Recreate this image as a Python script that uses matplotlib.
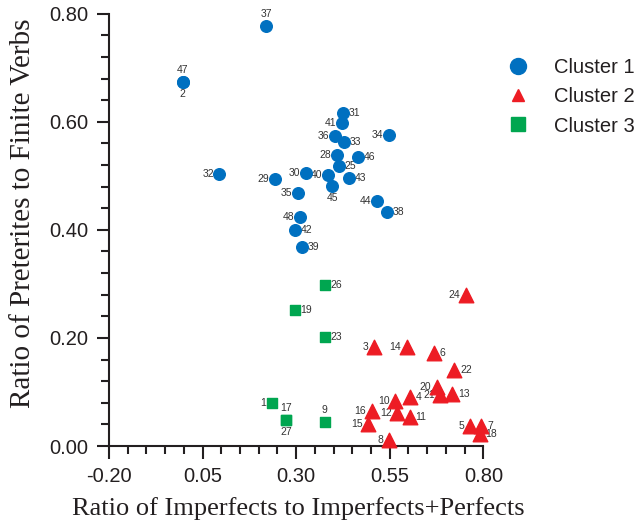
import matplotlib as mpl
mpl.use('Agg')
import matplotlib.pyplot as plt
from matplotlib.lines import Line2D
from matplotlib.ticker import MultipleLocator, FixedLocator, FormatStrFormatter

# imperfect ratio (x) vs preterite ratio (y), one array set per cluster
c1_ids = ['37', '47', '2', '31', '41', '36', '34', '33', '28', '46', '25', '32',
          '30', '40', '43', '29', '45', '35', '44', '38', '48', '42', '39']
c1_x = [0.220, -0.003, -0.003, 0.425, 0.423, 0.403, 0.547, 0.427, 0.409, 0.466,
        0.414, 0.095, 0.325, 0.384, 0.442, 0.244, 0.397, 0.305, 0.515, 0.544,
        0.310, 0.298, 0.316]
c1_y = [0.778, 0.673, 0.673, 0.617, 0.598, 0.574, 0.576, 0.562, 0.539, 0.535,
        0.519, 0.504, 0.505, 0.501, 0.496, 0.494, 0.481, 0.468, 0.454, 0.433,
        0.424, 0.400, 0.369]

c2_ids = ['24', '3', '14', '6', '22', '20', '21', '13', '4', '10', '12', '16',
          '11', '15', '8', '5', '7', '18']
c2_x = [0.754, 0.508, 0.595, 0.668, 0.723, 0.676, 0.685, 0.717, 0.604, 0.565,
        0.570, 0.502, 0.604, 0.492, 0.548, 0.764, 0.795, 0.790]
c2_y = [0.279, 0.184, 0.184, 0.173, 0.141, 0.110, 0.094, 0.096, 0.090, 0.084,
        0.062, 0.064, 0.053, 0.041, 0.012, 0.037, 0.038, 0.022]

c3_ids = ['26', '19', '23', '1', '17', '27', '9']
c3_x = [0.378, 0.296, 0.376, 0.235, 0.273, 0.273, 0.376]
c3_y = [0.298, 0.251, 0.201, 0.079, 0.048, 0.048, 0.044]

x_ticks = [-0.20, 0.05, 0.30, 0.55, 0.80]
y_ticks = [0.00, 0.20, 0.40, 0.60, 0.80]

# where each point label sits relative to its marker
side = {
    '37': 't', '47': 't', '2': 'b', '31': 'r', '41': 'l', '36': 'l', '34': 'l',
    '33': 'r', '28': 'l', '46': 'r', '25': 'r', '32': 'l', '30': 'l', '40': 'l',
    '43': 'r', '29': 'l', '45': 'b', '35': 'l', '44': 'l', '38': 'r', '48': 'l',
    '42': 'r', '39': 'r',
    '24': 'l', '3': 'l', '14': 'l', '6': 'r', '22': 'r', '20': 'l', '21': 'l',
    '13': 'r', '4': 'r', '10': 'l', '12': 'l', '16': 'l', '11': 'r', '15': 'l',
    '8': 'l', '5': 'l', '7': 'r', '18': 'r',
    '26': 'r', '19': 'r', '23': 'r', '1': 'l', '17': 't', '27': 'b', '9': 't',
}
place = {
    'r': ((4, 0), 'left', 'center'),
    'l': ((-4, 0), 'right', 'center'),
    't': ((0, 5), 'center', 'bottom'),
    'b': ((0, -5), 'center', 'top'),
}

BLUE = '#0070C0'
RED = '#ED1C24'
GREEN = '#00A650'
INK = '#231F20'
SANS = ['Liberation Sans', 'DejaVu Sans']
NARROW = ['Liberation Sans Narrow', 'Liberation Sans', 'DejaVu Sans']

fig = plt.figure(figsize=(6.41, 5.26), dpi=100)
ax = fig.add_axes([0.170, 0.152, 0.584, 0.822])

ax.scatter(c1_x, c1_y, s=70, marker='o', color=BLUE, zorder=3, clip_on=False)
ax.scatter(c2_x, c2_y, s=110, marker='^', color=RED, zorder=3, clip_on=False)
ax.scatter(c3_x, c3_y, s=45, marker='s', color=GREEN, zorder=3, clip_on=False)

# numbers next to each point, kept under the markers
for ids, xs, ys in [(c1_ids, c1_x, c1_y), (c2_ids, c2_x, c2_y), (c3_ids, c3_x, c3_y)]:
    for name, x, y in zip(ids, xs, ys):
        off, ha, va = place[side[name]]
        ax.annotate(name, (x, y), xytext=off, textcoords='offset points',
                    ha=ha, va=va, fontsize=7.5, color='#333333',
                    family=NARROW, zorder=2)

ax.set_xlim(-0.2, 0.8)
ax.set_ylim(0.0, 0.8)
ax.xaxis.set_major_locator(FixedLocator(x_ticks))
ax.xaxis.set_minor_locator(MultipleLocator(0.05))
ax.yaxis.set_major_locator(FixedLocator(y_ticks))
ax.yaxis.set_minor_locator(MultipleLocator(0.04))
ax.xaxis.set_major_formatter(FormatStrFormatter('%.2f'))
ax.yaxis.set_major_formatter(FormatStrFormatter('%.2f'))

for s in ['top', 'right']:
    ax.spines[s].set_visible(False)
for s in ['left', 'bottom']:
    ax.spines[s].set_linewidth(1.5)
    ax.spines[s].set_color(INK)
ax.tick_params(which='major', length=9, width=1.5, color=INK, pad=6,
               labelsize=14.5, labelcolor=INK)
ax.tick_params(which='minor', length=5.5, width=1.5, color=INK)
for lab in ax.get_xticklabels() + ax.get_yticklabels():
    lab.set_family(SANS)

ax.set_xlabel('Ratio of Imperfects to Imperfects+Perfects', family='Liberation Serif',
              fontsize=19, color=INK)
ax.set_ylabel('Ratio of Preterites to Finite Verbs', family='Liberation Serif',
              fontsize=21, color=INK)
ax.xaxis.set_label_coords(0.507, -0.118)
ax.yaxis.set_label_coords(-0.195, 0.538)

handles = [
    Line2D([], [], ls='', marker='o', ms=11.5, color=BLUE, label='Cluster 1'),
    Line2D([], [], ls='', marker='^', ms=9, color=RED, label='Cluster 2'),
    Line2D([], [], ls='', marker='s', ms=10, color=GREEN, label='Cluster 3'),
]
fig.legend(handles=handles, loc='upper left', bbox_to_anchor=(0.790, 0.889),
           frameon=False, prop={'family': SANS, 'size': 14.5}, borderpad=0,
           borderaxespad=0, labelspacing=0.5, handlelength=1.2,
           handletextpad=1.15, labelcolor=INK)

fig.savefig('out.png', dpi=100)
